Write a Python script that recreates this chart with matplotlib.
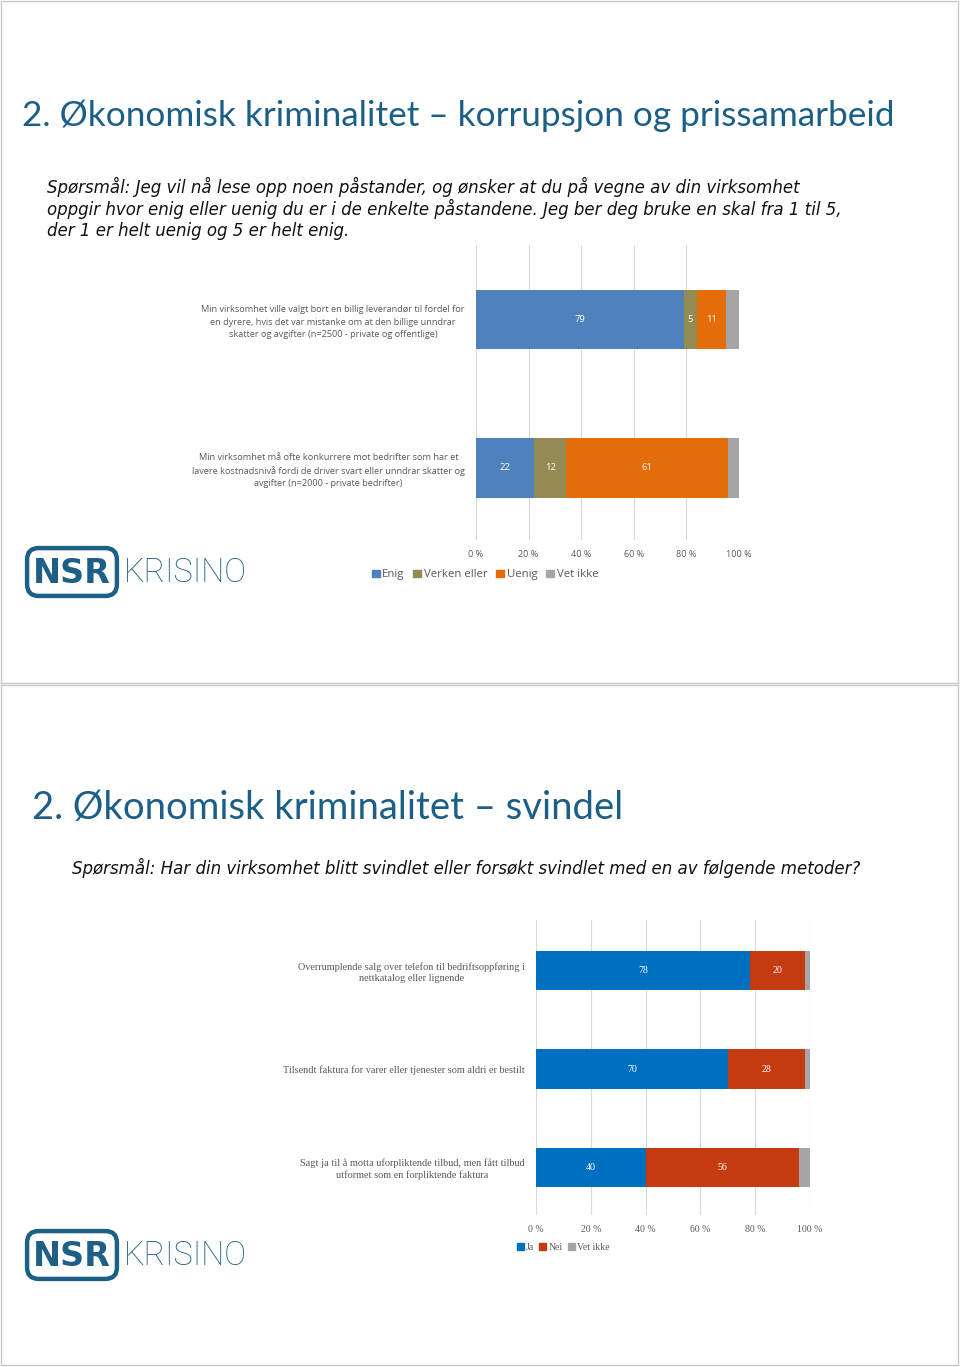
import matplotlib
matplotlib.use("Agg")
import matplotlib.pyplot as plt
from matplotlib.patches import FancyBboxPatch, Rectangle
import numpy as np

W, H = 960, 1367

# ---------------- data ----------------
title1 = "2. Økonomisk kriminalitet – korrupsjon og prissamarbeid"
question1 = ["Spørsmål: Jeg vil nå lese opp noen påstander, og ønsker at du på vegne av din virksomhet",
             "oppgir hvor enig eller uenig du er i de enkelte påstandene. Jeg ber deg bruke en skal fra 1 til 5,",
             "der 1 er helt uenig og 5 er helt enig."]
cats1 = ["Min virksomhet ville valgt bort en billig leverandør til fordel for\nen dyrere, hvis det var mistanke om at den billige unndrar\nskatter og avgifter (n=2500 - private og offentlige)",
         "Min virksomhet må ofte konkurrere mot bedrifter som har et\nlavere kostnadsnivå fordi de driver svart eller unndrar skatter og\navgifter (n=2000 - private bedrifter)"]
series1 = ["Enig", "Verken eller", "Uenig", "Vet ikke"]
enig = [79, 22]
verken = [5, 12]
uenig = [11, 61]
vetikke1 = [5, 4]
labels1 = [["79", "5", "11", ""], ["22", "12", "61", ""]]
colors1 = ["#4F81BD", "#948A54", "#E46C0A", "#A5A5A5"]

title2 = "2. Økonomisk kriminalitet – svindel"
question2 = "Spørsmål: Har din virksomhet blitt svindlet eller forsøkt svindlet med en av følgende metoder?"
cats2 = ["Overrumplende salg over telefon til bedriftsoppføring i\nnettkatalog eller lignende",
         "Tilsendt faktura for varer eller tjenester som aldri er bestilt",
         "Sagt ja til å motta uforpliktende tilbud, men fått tilbud\nutformet som en forpliktende faktura"]
series2 = ["Ja", "Nei", "Vet ikke"]
ja = [78, 70, 40]
nei = [20, 28, 56]
vetikke2 = [2, 2, 4]
colors2 = ["#0070C0", "#C43B12", "#A5A5A5"]

xticks = [0, 20, 40, 60, 80, 100]
xticklabels = ["0 %", "20 %", "40 %", "60 %", "80 %", "100 %"]

# ---------------- helpers ----------------
def fx(px): return px / W
def fy(py): return 1 - py / H

fig = plt.figure(figsize=(W / 100, H / 100), dpi=100)
fig.patch.set_facecolor("white")

# slide borders
for (x0, y0, x1, y1) in [(1, 1, 958, 683), (1, 685, 958, 1365)]:
    fig.add_artist(Rectangle((fx(x0), fy(y1)), fx(x1) - fx(x0), fy(y0) - fy(y1),
                             transform=fig.transFigure, fill=False, edgecolor="#C8C8C8", lw=1))

TITLE_C = "#1B5E87"
LOGO_C = "#1D5F85"

def draw_logo(x0, ytop):
    box = FancyBboxPatch((fx(x0 + 4), fy(ytop + 44)), fx(86), (44) / H,
                         boxstyle="round,pad=0.002,rounding_size=0.012",
                         transform=fig.transFigure, fill=False, edgecolor=LOGO_C, lw=3.2,
                         mutation_aspect=W / H)
    fig.add_artist(box)
    fig.text(fx(x0 + 47), fy(ytop + 23), "NSR", color=LOGO_C, fontsize=24, fontweight="bold",
             ha="center", va="center", family="DejaVu Sans")
    fig.text(fx(x0 + 99), fy(ytop + 23), "KRISINO", color=LOGO_C, fontsize=23.5,
             ha="left", va="center", family="Roboto", fontweight="light")

def stacked_chart(ax, cats, series_vals, colors, labels, lab_color, fam, cat_size, lab_size,
                  tick_size, bar_h, linesp):
    n = len(cats)
    y = np.arange(n)
    vals = np.array(series_vals, dtype=float)
    totals = vals.sum(axis=0)
    pct = vals / totals * 100
    left = np.zeros(n)
    for i, (row, c) in enumerate(zip(pct, colors)):
        ax.barh(y, row, left=left, color=c, height=bar_h, zorder=3)
        for j in range(n):
            txt = labels[j][i]
            if txt:
                ax.text(left[j] + row[j] / 2, y[j], txt, ha="center", va="center",
                        color=lab_color, fontsize=lab_size, family=fam, zorder=4)
        left += row
    ax.set_xlim(0, 100)
    ax.set_xticks(xticks)
    ax.set_xticklabels(xticklabels, family=fam)
    ax.set_yticks(y)
    ax.set_yticklabels(cats, multialignment="center", family=fam, linespacing=linesp)
    for s in ax.spines.values():
        s.set_visible(False)
    ax.grid(axis="x", color="#D9D9D9", lw=0.8, zorder=0)
    ax.tick_params(axis="both", length=0)
    ax.tick_params(axis="x", colors="#595959", labelsize=tick_size, pad=7)
    ax.tick_params(axis="y", colors="#595959", labelsize=cat_size, pad=8)

# ---------------- slide 1 ----------------
fig.text(fx(22), fy(116), title1, color=TITLE_C, fontsize=25.3, ha="left", va="center", family="Lato")
for k, line in enumerate(question1):
    fig.text(fx(47), fy(187 + 22 * k), line, fontsize=12, ha="left", va="center",
             family="DejaVu Sans", style="italic", color="#111111")

ax1 = fig.add_axes([fx(476), fy(540), fx(739) - fx(476), (540 - 245) / H])
stacked_chart(ax1, cats1, [enig, verken, uenig, vetikke1], colors1, labels1, "white",
              "Open Sans", 6.6, 6.8, 6.5, 0.40, 1.45)
ax1.set_ylim(1 + (540 - 468) / 148.5, -(319.5 - 245) / 148.5)

h1 = [Rectangle((0, 0), 1, 1, color=c) for c in colors1]
fig.legend(h1, series1, loc="center", bbox_to_anchor=(fx(485), fy(575)), ncol=4, frameon=False,
           prop={"family": "Open Sans", "size": 8.2}, labelcolor="#595959", handlelength=0.7,
           handleheight=0.7, handletextpad=0.2, columnspacing=0.8)

draw_logo(25, 550)

# ---------------- slide 2 ----------------
fig.text(fx(32), fy(808), title2, color=TITLE_C, fontsize=27.5, ha="left", va="center", family="Lato")
fig.text(fx(72), fy(868), question2, fontsize=12, ha="left", va="center",
         family="DejaVu Sans", style="italic", color="#111111")

labels2 = [[str(a), str(b), ""] for a, b in zip(ja, nei)]
ax2 = fig.add_axes([fx(536), fy(1215), fx(810) - fx(536), (1215 - 920) / H])
stacked_chart(ax2, cats2, [ja, nei, vetikke2], colors2, labels2, "white",
              "Liberation Serif", 7.4, 7.2, 7, 0.40, 1.25)
ax2.set_ylim(2 + (1215 - 1167.5) / 98.5, -(970.5 - 920) / 98.5)

h2 = [Rectangle((0, 0), 1, 1, color=c) for c in colors2]
fig.legend(h2, series2, loc="center left", bbox_to_anchor=(fx(508), fy(1247)), ncol=3, frameon=False,
           prop={"family": "Liberation Serif", "size": 7}, labelcolor="#595959", handlelength=0.7,
           handleheight=0.7, handletextpad=0.2, columnspacing=0.6)

draw_logo(25, 1233)

fig.savefig("out.png", dpi=100, facecolor="white")
